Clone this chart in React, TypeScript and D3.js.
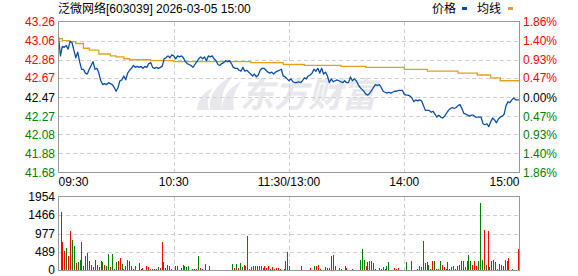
import React from "react";
import * as d3 from "d3";

// ---------- data ----------
const title = "泛微网络[603039] 2026-03-05 15:00";
const legendLabels = ["价格", "均线"];
const prevClose = 42.47;
const priceTicks = [43.26, 43.06, 42.86, 42.67, 42.47, 42.27, 42.08, 41.88, 41.68];
const pctTicks = ["1.86%", "1.40%", "0.93%", "0.47%", "0.00%", "0.47%", "0.93%", "1.40%", "1.86%"];
const volTicks = [1954, 1466, 977, 489, 0];
const timeLabels = ["09:30", "10:30", "11:30/13:00", "14:00", "15:00"];
const timeLabelMinutes = [0, 60, 120, 180, 240];

const prices = [
  43.10, 42.90, 43.00, 42.99, 43.01, 42.97, 43.05, 43.04, 42.96, 42.88,
  42.94, 42.84, 42.76, 42.76, 42.72, 42.71, 42.76, 42.80, 42.84, 42.76,
  42.77, 42.72, 42.64, 42.60, 42.61, 42.60, 42.62, 42.61, 42.60, 42.57,
  42.53, 42.57, 42.64, 42.65, 42.69, 42.65, 42.72, 42.75, 42.77, 42.80,
  42.78, 42.79, 42.78, 42.79, 42.77, 42.79, 42.78, 42.82, 42.83, 42.78,
  42.77, 42.78, 42.77, 42.78, 42.79, 42.87, 42.88, 42.90, 42.88, 42.91,
  42.90, 42.87, 42.90, 42.89, 42.90, 42.88, 42.84, 42.82, 42.81, 42.80,
  42.78, 42.81, 42.84, 42.87, 42.89, 42.87, 42.89, 42.85, 42.90, 42.89,
  42.90, 42.87, 42.85, 42.81, 42.80, 42.82, 42.83, 42.85, 42.84, 42.85,
  42.82, 42.78, 42.77, 42.77, 42.75, 42.74, 42.78, 42.74, 42.75, 42.73,
  42.71, 42.69, 42.71, 42.68, 42.70, 42.75, 42.77, 42.77, 42.75, 42.73,
  42.72, 42.73, 42.71, 42.73, 42.74, 42.75, 42.76, 42.69, 42.68, 42.66,
  42.64, 42.66, 42.63, 42.62, 42.62, 42.63, 42.62, 42.64, 42.67, 42.66,
  42.69, 42.70, 42.72, 42.76, 42.74, 42.77, 42.72, 42.77, 42.71, 42.73,
  42.69, 42.62, 42.66, 42.63, 42.64, 42.65, 42.64, 42.63, 42.62, 42.64,
  42.62, 42.62, 42.68, 42.64, 42.66, 42.64, 42.60, 42.57, 42.55, 42.53,
  42.50, 42.49, 42.51, 42.54, 42.57, 42.60, 42.59, 42.60, 42.57, 42.53,
  42.52, 42.51, 42.52, 42.51, 42.52, 42.53, 42.53, 42.54, 42.54, 42.54,
  42.50, 42.49, 42.49, 42.48, 42.46, 42.42, 42.44, 42.43, 42.44, 42.43,
  42.38, 42.33, 42.33, 42.33, 42.31, 42.32, 42.29, 42.26, 42.28, 42.26,
  42.25, 42.27, 42.30, 42.33, 42.35, 42.36, 42.35, 42.36, 42.38, 42.39,
  42.35, 42.30, 42.29, 42.28, 42.27, 42.28, 42.28, 42.26, 42.26, 42.26,
  42.26, 42.19, 42.18, 42.19, 42.16, 42.21, 42.25, 42.23, 42.20, 42.24,
  42.26, 42.27, 42.29, 42.38, 42.42, 42.41, 42.44, 42.46, 42.44, 42.44,
  42.44,
];

const avgMinutes = [0, 2, 6, 9, 13, 16, 21, 27, 30, 34, 37, 48, 60, 100, 117, 128, 147, 160, 180, 192, 208, 218, 225, 230, 240];
const avgValues = [43.08, 43.06, 43.05, 43.03, 42.98, 42.96, 42.92, 42.90, 42.89, 42.87, 42.86, 42.85, 42.84, 42.83, 42.81, 42.80, 42.79, 42.78, 42.76, 42.74, 42.72, 42.70, 42.67, 42.64, 42.63];

const volumes = [
  1540, 748, 528, 598, 396, 1056, 818, 634, 194, 220,
  282, 748, 132, 396, 475, 246, 150, 88, 282, 158,
  88, 264, 220, 150, 132, 440, 88, 440, 44, 220,
  246, 334, 176, 44, 132, 282, 246, 132, 44, 106,
  18, 194, 44, 62, 18, 132, 88, 44, 44, 35,
  35, 88, 70, 748, 220, 70, 150, 114, 44, 26,
  114, 132, 18, 62, 150, 106, 88, 132, 26, 35,
  35, 35, 396, 70, 35, 18, 176, 18, 106, 26,
  26, 26, 26, 26, 26, 26, 26, 26, 26, 26,
  176, 70, 176, 70, 194, 88, 158, 106, 924, 44,
  88, 132, 132, 132, 106, 132, 70, 106, 70, 106,
  44, 88, 35, 70, 70, 44, 26, 35, 246, 484,
  132, 26, 26, 26, 26, 26, 106, 26, 26, 26,
  26,
  62, 26, 106, 132, 158, 44, 26, 26, 88, 62,
  70, 396, 422, 132, 26, 62, 35, 26, 106, 62,
  26, 26,
  35, 26, 26, 26, 282, 572, 282, 106, 220, 246,
  264, 194, 44, 18, 70, 44, 88, 44, 106, 220,
  26, 26, 62, 35, 62, 26, 26, 26, 220, 26,
  26, 246, 26, 26, 35, 132, 88, 774, 194,
  220, 158, 35, 264, 264, 44, 35, 246, 158, 88,
  44, 220, 44, 88, 132, 44, 132, 150, 264, 246,
  88, 246, 422, 246, 150, 264, 132, 264, 1795, 282,
  1074, 158, 1030, 88, 264, 282, 220, 44, 176, 158,
  132, 282, 264, 334, 26, 44, 26, 26, 572,
];
const volumeUp = [
  1, 1, 1, 0, 1, 1, 0, 0, 1, 0,
  0, 0, 1, 0, 0, 0, 1, 1, 0, 1,
  1, 0, 0, 1, 0, 0, 1, 0, 0, 0,
  1, 1, 0, 0, 0, 1, 1, 1, 0, 1,
  1, 1, 0, 1, 1, 1, 1, 0, 1, 1,
  1, 0, 1, 1, 1, 0, 1, 1, 1, 1,
  1, 1, 1, 0, 0, 0, 0, 0, 1, 1,
  1, 1, 0, 1, 1, 1, 0, 1, 0, 1,
  0, 1, 1, 0, 1, 1, 0, 1, 1, 0,
  0, 1, 0, 1, 0, 0, 1, 1, 0, 0,
  1, 1, 1, 1, 1, 1, 1, 1, 1, 1,
  1, 1, 1, 1, 1, 1, 1, 1, 0, 0,
  0, 1, 1, 1, 1, 1, 1, 1, 0, 1,
  1,
  1, 1, 0, 1, 1, 1, 1, 1, 0, 1,
  0, 0, 0, 1, 1, 1, 1, 1, 1, 1,
  1, 0,
  1, 1, 1, 0, 0, 0, 0, 1, 0, 0,
  0, 1, 1, 1, 0, 1, 0, 1, 0, 0,
  1, 1, 1, 1, 1, 1, 1, 1, 0, 0,
  1, 0, 1, 1, 0, 0, 1, 0, 1,
  1, 0, 1, 1, 0, 1, 1, 0, 1, 1,
  1, 1, 0, 1, 1, 1, 1, 0, 0, 0,
  1, 0, 0, 0, 1, 1, 1, 0, 0, 0,
  1, 0, 1, 1, 0, 0, 1, 0, 0, 1,
  1, 1, 0, 1, 0, 1, 0, 1, 1,
];

// ---------- layout ----------
const W = 578;
const H = 276;
const L = 58.5;
const R = 519.5;
const PT = 21.5;
const PB = 172.5;
const VT = 196.5;
const VB = 270.5;

const RED = "#ff0000";
const GREEN = "#008000";
const BLUE = "#0a4fa6";
const GOLD = "#e0a21e";
const GRID = "#cfcfcf";
const BORDER = "#999999";
const NUM_FONT = "'Liberation Sans', Arial, 'Noto Sans CJK SC', sans-serif";

export default function App() {
  const x = d3.scaleLinear().domain([0, 240]).range([L, R]);
  const y = d3.scaleLinear().domain([priceTicks[priceTicks.length - 1], priceTicks[0]]).range([PB, PT]);
  const yv = d3.scaleLinear().domain([0, volTicks[0]]).range([VB, VT]);
  const xb = d3.scaleLinear().domain([0, volumes.length - 1]).range([60.5, 518]);

  const priceLine = d3
    .line<number>()
    .x((_, i) => x(i))
    .y((d) => y(d))(prices) as string;

  const avgLine = d3
    .line<number>()
    .x((_, i) => x(avgMinutes[i]))
    .y((d) => y(d))
    .curve(d3.curveStepAfter)(avgValues) as string;

  const labelColor = (v: number) => (Math.abs(v - prevClose) < 0.001 ? "#000" : v > prevClose ? RED : GREEN);
  const pctColor = (i: number) => (i < 4 ? RED : i === 4 ? "#000" : GREEN);

  const vLines = [60, 120, 180];

  return (
    <svg
      width={W}
      height={H}
      style={{ position: "fixed", left: 0, top: 0, background: "#fff" }}
      fontFamily={NUM_FONT}
    >
      <rect x={0} y={0} width={W} height={H} fill="#fff" />
      {/* title */}
      <text x={58} y={13} fontSize={12} fill="#000">
        {title}
      </text>
      {/* legend */}
      <text x={432} y={13} fontSize={12} fill="#000">
        {legendLabels[0]}
      </text>
      <rect x={462} y={7} width={5} height={3} fill={BLUE} />
      <text x={477} y={13} fontSize={12} fill="#000">
        {legendLabels[1]}
      </text>
      <rect x={508} y={7} width={5} height={3} fill={GOLD} />

      {/* watermark */}
      <g fill="#e6e6eb" opacity={0.95}>
        <path d="M210 110 C 208 96, 216 84, 234 75 C 224 86, 220 97, 222 110 Z" />
        <path d="M222 110 C 222 97, 228 88, 242 81 C 234 90, 232 100, 234 110 Z" />
        <path d="M197 110 C 197 101, 203 92, 213 88 C 207 95, 207 102, 209 110 Z" />
        <text x={240} y={107} fontSize={34} fontWeight="bold" fontFamily="'Noto Sans CJK SC', sans-serif" fontStyle="italic">
          东方财富
        </text>
      </g>

      {/* price grid */}
      <g stroke={GRID} strokeDasharray="4,3" shapeRendering="crispEdges">
        {priceTicks.slice(1, -1).map((t) => (
          <line key={"h" + t} x1={L} x2={R} y1={Math.round(y(t)) + 0.5} y2={Math.round(y(t)) + 0.5} />
        ))}
        {vLines.map((m) => (
          <line key={"v" + m} x1={Math.round(x(m)) + 0.5} x2={Math.round(x(m)) + 0.5} y1={PT} y2={PB} />
        ))}
        {volTicks.slice(1, -1).map((t) => (
          <line key={"vh" + t} x1={L} x2={R} y1={Math.round(yv(t)) + 0.5} y2={Math.round(yv(t)) + 0.5} />
        ))}
        {vLines.map((m) => (
          <line key={"vv" + m} x1={Math.round(x(m)) + 0.5} x2={Math.round(x(m)) + 0.5} y1={VT} y2={VB} />
        ))}
      </g>

      {/* lines */}
      <path d={avgLine} fill="none" stroke={GOLD} strokeWidth={1.3} />
      <path d={priceLine} fill="none" stroke={BLUE} strokeWidth={1.3} strokeLinejoin="round" />

      {/* volume bars */}
      <g shapeRendering="crispEdges">
        {volumes.map((v, i) => (
          <rect
            key={"b" + i}
            x={Math.round(xb(i))}
            y={yv(v)}
            width={1}
            height={VB - 0.5 - yv(v)}
            fill={volumeUp[i] ? RED : GREEN}
          />
        ))}
      </g>

      {/* borders */}
      <g fill="none" stroke={BORDER} shapeRendering="crispEdges">
        <rect x={L} y={PT} width={R - L} height={PB - PT} />
        <rect x={L} y={VT} width={R - L} height={VB - VT} />
      </g>

      {/* left price axis */}
      <g fontSize={12} textAnchor="end">
        {priceTicks.map((t) => (
          <text key={"pl" + t} x={55} y={y(t) + 4.5} fill={labelColor(t)}>
            {t.toFixed(2)}
          </text>
        ))}
      </g>
      {/* right pct axis */}
      <g fontSize={12} textAnchor="start">
        {pctTicks.map((t, i) => (
          <text key={"pr" + i} x={523} y={y(priceTicks[i]) + 4.5} fill={pctColor(i)}>
            {t}
          </text>
        ))}
      </g>
      {/* time axis */}
      <g fontSize={12} fill="#000">
        {timeLabels.map((t, i) => (
          <text
            key={"t" + t}
            x={i === 0 ? L : i === timeLabels.length - 1 ? R : x(timeLabelMinutes[i])}
            y={186}
            textAnchor={i === 0 ? "start" : i === timeLabels.length - 1 ? "end" : "middle"}
          >
            {t}
          </text>
        ))}
      </g>
      {/* volume axis */}
      <g fontSize={12} fill="#000" textAnchor="end">
        {volTicks.map((t) => (
          <text key={"vl" + t} x={55} y={Math.min(yv(t) + 4.5, 274)}>
            {t}
          </text>
        ))}
      </g>
    </svg>
  );
}
